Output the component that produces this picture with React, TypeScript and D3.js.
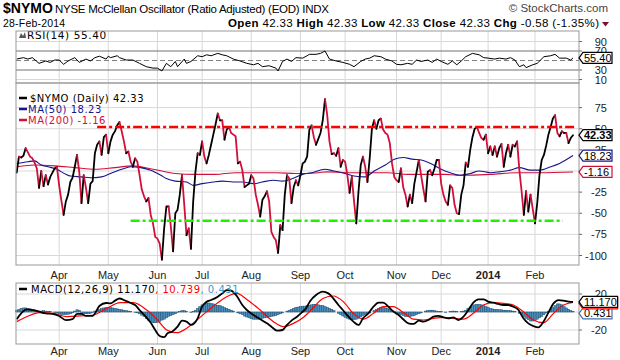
import React from 'react';
import * as d3 from 'd3';

// ---------- data ----------
const monthLabels = ['Apr', 'May', 'Jun', 'Jul', 'Aug', 'Sep', 'Oct', 'Nov', 'Dec', '2014', 'Feb'];
const monthIdx = [19, 41, 63, 83, 105, 127, 147, 170, 190, 211, 232];

// $NYMO daily close, trading day index 0 = 4-Mar-2013
const nymo = [
  -2, 17, 16, 18, 27, 22, 17, 15, 10, 3,
  -20, 0, -18, -5, -16, -7, -2, 3, 5, -17,
  -35, -52, -36, -28, -13, -8, 5, 19, -1, -38,
  -5, -20, -38, -15, -12, 21, 31, 35, 19, 40,
  43, 21, 35, 43, 47, 54, 58, 47, 35, 21,
  23, 11, 5, 15, 11, -5, -22, -30, -36, -32,
  -52, -62, -78, -80, -86, -105, -68, -42, -42, -66,
  -95, -50, -46, -28, -5, -40, -76, -68, -92, -36,
  -1, 21, 19, 35, 17, 9, 19, 31, 43, 55,
  68, 60, 60, 37, 49, 52, 45, 43, 41, 9,
  11, 1, -19, -17, -15, -5, -9, -28, -40, -54,
  -34, -30, -24, -36, -72, -78, -82, -97, -64, -70,
  -28, -5, -9, -38, -19, -11, -17, -5, 9, 11,
  17, 49, 54, 40, 31, 38, 45, 60, 85, 66,
  35, 20, 21, 18, 27, 5, 13, 11, -5, -26,
  -7, -36, -62, -24, 7, 17, 5, -13, 15, 50,
  60, 50, 60, 62, 49, 45, 43, 33, 9, -7,
  -11, -13, 3, -19, -28, -42, -28, -38, -15, -1,
  13, -5, -21, -36, -1, 1, -5, 3, 13, 13,
  -15, -28, -36, -40, -17, -20, -40, -50, -51, -28,
  -17, 10, 5, 25, 40, 50, 52, 45, 39, 37,
  43, 21, 29, 19, 29, 17, 27, 32, 5, 21,
  31, 17, 31, 29, 35, 1, -24, -52, -24, -48,
  -28, -45, -62, -38, -5, 13, 19, 30, 43, 52,
  62, 66, 45, 41, 47, 45, 45, 33, 39, 42.33,
];

const ma50Idx = [0, 5, 8, 11, 14, 18, 22, 24, 29, 33, 38, 42, 47, 51, 55.5, 60, 64.5, 67, 71, 76, 79, 83, 88, 92, 97, 101, 106, 110, 115, 119, 123.5, 128, 132, 138, 142, 147, 151, 156, 160, 165, 169, 173, 177, 181, 186, 190, 194, 198.5, 203, 207, 212, 216, 221, 225, 230, 234, 239, 243, 249];
const ma50Val = [9, 11, 12, 7, 5, 2, -4, -6, -7, -8, -7, -3, 2, 5, 4, 1, -5, -9, -12, -13, -17, -15, -13, -12, -13, -13, -15, -13, -11, -12, -9, -4, -2, 2, 0, -3, -6, -7, 0, 7, 14, 16, 14, 13, 8, 2, -2, -5, -3, 0, -2, -1, 1, 4, 1, 1, 5, 9, 18.23];

const ma200Idx = [0, 8, 17, 26, 35, 44, 52, 61, 65, 71, 80, 89, 98, 107, 116, 125, 135, 139, 148, 157, 166, 175, 184, 192, 197, 212, 224, 234, 249];
const ma200Val = [5, 7, 6, 4, 2, 4, 6, 2, 0, -3, -4, -4, -2, -2, -2, -3, -2, -1, -2, -2, -2, -4, -4, -4, -5, -4, -2, -2, -1.16];

const levelValues = [52, -59];
const levelStart = [36, 51];
const levelEnd = [249.5, 244.5];

const rsiIdx = [0, 3, 5, 7, 9, 10, 13, 15, 17, 19, 21, 23, 26, 28, 31, 33, 35, 37, 40, 41, 42, 45, 46, 49, 52, 55, 58, 61, 63, 65, 67, 69, 71, 72, 75, 76, 78, 81, 83, 85, 87, 90, 92, 94, 97, 100, 103, 106, 108, 110, 113, 116, 117, 119, 121, 123, 125, 128, 130, 131, 134, 136, 138, 140, 143, 146, 149, 151, 154, 156, 158, 160, 163, 165, 168, 170, 172, 175, 177, 179, 181, 184, 186, 188, 190, 193, 195, 197, 199, 201, 204, 207, 209, 211, 214, 216, 219, 221, 223, 225, 227, 228, 231, 233, 236, 239, 241, 243, 246, 248, 249];
const rsiVal = [53, 56, 53, 56, 48, 44, 49, 46, 51, 51, 42, 49, 56, 46, 53, 49, 56, 59, 53, 59, 56, 60, 56, 51, 51, 44, 37, 34, 34, 28, 44, 37, 48, 37, 53, 44, 48, 60, 58, 62, 60, 65, 62, 60, 53, 49, 44, 41, 44, 37, 39, 34, 28, 48, 53, 48, 56, 55, 60, 63, 63, 65, 70, 53, 49, 46, 42, 37, 48, 53, 55, 60, 58, 53, 49, 42, 41, 44, 42, 51, 48, 51, 46, 53, 48, 42, 49, 41, 49, 58, 65, 62, 56, 55, 53, 55, 53, 56, 51, 37, 41, 35, 41, 44, 58, 60, 63, 55, 55, 51, 55.4];

const macdIdx = [0, 2, 4.5, 7.5, 10, 13, 16, 19, 22, 25, 27, 29, 31, 34, 35.5, 37, 40, 42, 44, 46, 48.5, 51, 53, 55, 57.5, 60, 62, 64, 66, 67.5, 69.5, 72, 74, 76, 78, 81, 83, 85, 87, 90, 92, 94, 96, 98.5, 101, 103, 106, 109, 112, 114, 116.5, 119, 121, 123, 125.5, 127.5, 129.5, 131.3, 134, 137, 139.5, 141.7, 144, 146, 148.5, 150.7, 153, 155, 157.4, 159.7, 162, 164, 166.4, 168.6, 171, 173, 175.3, 177.6, 180, 182, 184.3, 186.5, 188.8, 191, 193.2, 195.5, 197.7, 200, 202.2, 204.4, 206.7, 209, 211, 213.4, 215.6, 218, 220, 222.3, 224.6, 226.8, 229, 231.3, 233.5, 235.8, 238, 240.3, 242.5, 244.8, 247, 249];
const macdVal = [-8, -1.5, 3, 2, 0.4, -1.5, -2, -4.4, -9, -8, -2, -2, -4.4, -4.4, 0.4, 6.7, 10, 9.6, 12.6, 15, 12.6, 10, 7.8, 2.2, -4.4, -12, -20, -26.7, -28, -23.7, -21.9, -16.3, -9.6, -10.7, -14.4, -7, 6, 11.5, 13.3, 17, 20.7, 24.4, 23.7, 17.8, 7.8, 2.2, -3.3, -8, -12.6, -16.3, -20.7, -20, -14.4, -9.6, -5.2, -0.7, 4, 12, 18.9, 22.6, 20.7, 15.2, 7.8, 2.2, -5.2, -10.7, -14.4, -7, -1.5, 6, 10.4, 10.4, 6, 0.4, -3.3, -8, -12.6, -13.3, -9.6, -10.7, -8.9, -5.2, -4.4, -5.9, -7, -5.9, -8.9, -5.2, 2.2, 10.4, 14, 14, 11.5, 10.4, 8.9, 7.8, 7.8, 6, 2.2, -7, -12.6, -15.6, -17, -10.7, -0.7, 9.6, 13.3, 12.6, 11.5, 11.17];

const sigIdx = [0, 4.5, 10.4, 16.4, 22.4, 28.4, 34.3, 40.3, 46.3, 52.2, 58.2, 62.7, 67.2, 71.6, 76.1, 80.6, 85.1, 89.6, 94, 98.5, 103, 109, 114.9, 119.4, 123.9, 128.4, 131.3, 137.3, 141.7, 146.2, 150.7, 155.2, 159.7, 164.1, 168.6, 173.1, 177.6, 182, 186.5, 191, 195.5, 200, 204.4, 208.9, 213.4, 217.9, 222.3, 226.8, 231.3, 235.8, 240.3, 244.8, 249];
const sigVal = [-10.7, -5.2, -0.7, -1.5, -5.2, -4.4, -3.3, 4, 10.4, 10.4, 2.2, -8, -20, -23, -18, -9, 0.4, 9.6, 17, 20.7, 14, 2.2, -10.7, -16.3, -12.6, -5.9, 1, 15.2, 17.8, 11.5, -1.5, -8, -1.5, 6, 6, -0.7, -8, -8.9, -7, -5.9, -7, -8, -1.5, 7.8, 10.4, 9.6, 7.8, 0.4, -8.9, -11.9, -1.5, 7.8, 10.739];

const hist = [
  2, 3, 4, 4.5, 4.5, 4, 3.5, 3, 2, 1.5,
  1, 1, 1.5, 1, 0.5, 0.5, 0, -0.5,
  -1, -2, -3, -3, -3, -2.5, -2, -1,
  1, 2.5, 2,
  -0.5, -1.5, -2, -2, -1.5, -0.5,
  1, 2, 3, 4, 4.5, 5, 5, 5, 4.5, 4, 3.5,
  3, 2.5, 2, 1.5, 1, 0.5, 0, -0.5, -1,
  -2, -3.5, -5, -7, -9, -10.5, -12, -12, -11.5, -10.5,
  -9, -8, -6.5, -5, -4, -3, -2,
  -0.5, 0.5, 1.5, 1.5,
  0.5, 0, -0.5, 0.5,
  2, 4, 6, 8, 9, 10, 10, 9.5, 9, 8, 7.5, 7, 6, 5, 4, 3,
  2, 1, 0, -1,
  -2, -3, -4.5, -5.5, -6.5, -7.5, -8, -8, -8, -7.5, -7, -6.5, -6, -5.5, -5, -4.5, -4, -3,
  -2, -1, 0, 1, 2, 3, 4, 5, 5.5, 6, 6.5, 6.5, 7,
  7.5, 8, 8.5, 8.5, 8, 7.5, 7, 6, 5, 4, 3,
  1.5, 0, -1.5, -3, -4.5, -6, -7, -8, -8.5, -8.5, -8, -7, -5.5, -4, -3, -2, -1,
  0, 1.5, 3, 4, 5, 5, 4.5, 4, 3, 2, 1,
  -0.5, -2, -3, -4, -5, -5, -5, -4.5, -4, -3, -2,
  -1, 0, 1, 1.5, 2, 2, 1.5, 1, 0.5, 0.5, 0, -0.5, 0, 0.5, 1, 1, 0.5, 0, 0.5, 1,
  2, 4, 5.5, 7, 8, 8.5, 8.5, 8, 7, 6, 5, 4, 3.5,
  3, 3, 2.5, 2.5, 2, 2, 1.5, 1.5, 1, 0.5, 0,
  -1.5, -3, -5, -7, -8.5, -10, -10, -9.5, -8, -6.5, -5, -3,
  -1, 1, 3, 5, 7, 9, 9, 8, 6, 4.5, 3, 1.5, 0.431,
];

const mainTicks = [75, 50, 25, 0, -25, -50, -75, -100];
const rsiTicks = [90, 70, 30, 10];
const macdTicks = [20, -20];

// ---------- styling ----------
const FONT = 'Liberation Sans, Arial, sans-serif';
const LFONT = 'DejaVu Sans, Verdana, sans-serif';
const UP = '#000000';
const DOWN = '#d0103a';
const NAVY = '#16168a';
const CRIMSON = '#d0103a';
const LABEL_END = 607;

type Pt = [number, number];

function Tag({ x, y, text, stroke, bold, color }: { x: number; y: number; text: string; stroke: string; bold?: boolean; color?: string }) {
  const w = text.length * 5.6 + 1;
  const h = 5.5;
  const pts = `${x},${y} ${x + 4},${y - h} ${x + 4 + w},${y - h} ${x + 4 + w},${y + h} ${x + 4},${y + h}`;
  return (
    <g>
      <polygon points={pts} fill="#fff" stroke={stroke} strokeWidth={1.2} />
      <text x={x + 5} y={y + 4} fontFamily={FONT} fontSize={11} fontWeight={bold ? 'bold' : 'normal'} fill={color || '#000'}>{text}</text>
    </g>
  );
}

export default function App() {
  const L = 16, R = 579;
  const rsiTop = 31, rsiBot = 83, mainTop = 83, mainBot = 265, macdTop = 283, macdBot = 344;
  const x = d3.scaleLinear().domain([0, 232]).range([16.7, 535]);
  const yR = d3.scaleLinear().domain([10, 90]).range([79.5, 41.5]);
  const yM = d3.scaleLinear().domain([-100, 75]).range([255.5, 107.6]);
  const yC = d3.scaleLinear().domain([-20, 20]).range([330, 294]);

  // NYMO colored runs (black rising, red falling)
  const runs: { color: string; pts: Pt[] }[] = [];
  for (let i = 1; i < nymo.length; i++) {
    const c = nymo[i] >= nymo[i - 1] ? UP : DOWN;
    const last = runs[runs.length - 1];
    if (last && last.color === c) last.pts.push([i, nymo[i]]);
    else runs.push({ color: c, pts: [[i - 1, nymo[i - 1]], [i, nymo[i]]] });
  }
  const lineM = d3.line<Pt>().x(d => x(d[0])).y(d => yM(d[1]));
  const lineMs = d3.line<Pt>().x(d => x(d[0])).y(d => yM(d[1])).curve(d3.curveMonotoneX);
  const lineR = d3.line<Pt>().x(d => x(d[0])).y(d => yR(d[1]));
  const lineC = d3.line<Pt>().x(d => x(d[0])).y(d => yC(d[1])).curve(d3.curveMonotoneX);
  const zip = (a: number[], b: number[]) => a.map((v, i) => [v, b[i]] as Pt);

  const lastN = nymo[nymo.length - 1];
  const lastMa50 = ma50Val[ma50Val.length - 1];
  const lastMa200 = ma200Val[ma200Val.length - 1];
  const lastRsi = rsiVal[rsiVal.length - 1];
  const lastMacd = macdVal[macdVal.length - 1];
  const lastSig = sigVal[sigVal.length - 1];
  const lastHist = hist[hist.length - 1];

  const step = x(1) - x(0);
  const monthLines = (top: number, bot: number) =>
    monthIdx.map((m, i) => <line key={i} x1={x(m)} x2={x(m)} y1={top} y2={bot} stroke="#d8d8d8" />);

  const yMacdTag = yC(lastMacd);
  const ySigTag = Math.max(yC(lastSig), yMacdTag + 1.5);
  const yHistTag = Math.max(yC(lastHist), ySigTag + 10);

  const axisLabel = (v: number, y: number) => (
    <g key={v}>
      <line x1={R} x2={R + 3} y1={y} y2={y} stroke="#666" />
      <text x={LABEL_END} y={y + 4} textAnchor="end" fontFamily={FONT} fontSize={11} fill="#222">{v}</text>
    </g>
  );

  return (
    <svg width={620} height={360} style={{ position: 'absolute', left: 0, top: 0, background: '#fff' }}>
      <rect width={620} height={360} fill="#fff" />
      {/* header */}
      <text x={3} y={13} fontFamily={FONT} fontSize={14} fontWeight="bold" fill="#000">$NYMO</text>
      <text x={55} y={13} fontFamily={FONT} fontSize={11.5} textLength={274} lengthAdjust="spacing" fill="#000">NYSE McClellan Oscillator (Ratio Adjusted) (EOD) INDX</text>
      <text x={608} y={12} textAnchor="end" fontFamily={FONT} fontSize={11.5} fill="#444">© StockCharts.com</text>
      <text x={3} y={26.5} fontFamily={FONT} fontSize={10.5} letterSpacing={0.2} fill="#000">28-Feb-2014</text>
      <text x={228} y={26.5} fontFamily={FONT} fontSize={11.5} textLength={371} lengthAdjust="spacing" fill="#000">
        <tspan fontWeight="bold">Open</tspan> 42.33 <tspan fontWeight="bold">High</tspan> 42.33 <tspan fontWeight="bold">Low</tspan> 42.33 <tspan fontWeight="bold">Close</tspan> 42.33 <tspan fontWeight="bold">Chg</tspan> -0.58 (-1.35%)
      </text>
      <path d="M602,22 L609,22 L605.5,26.5 Z" fill="#7a1030" />

      {/* RSI panel */}
      {monthLines(rsiTop, rsiBot)}
      {[90, 10].map(v => <line key={v} x1={L} x2={R} y1={yR(v)} y2={yR(v)} stroke="#d8d8d8" />)}
      {[70, 30].map(v => <line key={v} x1={L} x2={R} y1={yR(v)} y2={yR(v)} stroke="#707070" />)}
      <line x1={L} x2={R} y1={yR(50)} y2={yR(50)} stroke="#808080" strokeDasharray="5,3" />
      <path d={lineR(zip(rsiIdx, rsiVal)) || ''} fill="none" stroke="#000" strokeWidth={1} />
      <path d="M19,38 L21,33 L23,36 L25,32 L26,38 Z" fill="#555" />
      <text x={27} y={38.5} fontFamily={LFONT} fontSize={10.5} letterSpacing={0.6} fill="#000">RSI(14) 55.40</text>
      {rsiTicks.map(v => axisLabel(v, yR(v)))}
      <rect x={L} y={rsiTop} width={R - L} height={rsiBot - rsiTop} fill="none" stroke="#999" />
      <Tag x={R} y={yR(lastRsi)} text={lastRsi.toFixed(2)} stroke="#000" />

      {/* main panel */}
      {monthLines(mainTop, mainBot)}
      {mainTicks.map(v => <line key={v} x1={L} x2={R} y1={yM(v)} y2={yM(v)} stroke="#d8d8d8" />)}
      <path d={lineMs(zip(ma200Idx, ma200Val)) || ''} fill="none" stroke={CRIMSON} strokeWidth={1.1} />
      <path d={lineMs(zip(ma50Idx, ma50Val)) || ''} fill="none" stroke={NAVY} strokeWidth={1.1} />
      {runs.map((r, i) => (
        <path key={i} d={lineM(r.pts) || ''} fill="none" stroke={r.color} strokeWidth={1.8} strokeLinejoin="round" strokeLinecap="round" />
      ))}
      {levelValues.map((v, i) => (
        <line key={i} x1={x(levelStart[i])} x2={x(levelEnd[i])} y1={yM(v)} y2={yM(v)}
          stroke={i === 0 ? '#ff0000' : '#22ee00'} strokeWidth={2.5} strokeDasharray="9,3,3,3" />
      ))}
      <line x1={19} x2={27} y1={98} y2={98} stroke="#000" strokeWidth={2.5} />
      <text x={30} y={101.5} fontFamily={LFONT} fontSize={10} letterSpacing={0.5} fill="#000">$NYMO (Daily) 42.33</text>
      <line x1={19} x2={27} y1={109} y2={109} stroke={NAVY} strokeWidth={2.5} />
      <text x={28} y={112.5} fontFamily={LFONT} fontSize={10} letterSpacing={0.5} fill={NAVY}>MA(50) 18.23</text>
      <line x1={19} x2={27} y1={120} y2={120} stroke={CRIMSON} strokeWidth={2.5} />
      <text x={28} y={123.5} fontFamily={LFONT} fontSize={10} letterSpacing={0.5} fill={CRIMSON}>MA(200) -1.16</text>
      {mainTicks.map(v => axisLabel(v, yM(v)))}
      <rect x={L} y={mainTop} width={R - L} height={mainBot - mainTop} fill="none" stroke="#999" />
      <Tag x={R} y={yM(lastMa200)} text={lastMa200.toFixed(2)} stroke={CRIMSON} />
      <Tag x={R} y={yM(lastMa50)} text={lastMa50.toFixed(2)} stroke={NAVY} />
      <Tag x={R} y={yM(lastN)} text={lastN.toFixed(2)} stroke="#000" bold />

      {/* month labels */}
      {monthIdx.map((m, i) => (
        <g key={i}>
          <text x={x(m)} y={279} textAnchor="middle" fontFamily={FONT} fontSize={11} fontWeight={monthLabels[i] === '2014' ? 'bold' : 'normal'} fill="#222">{monthLabels[i]}</text>
          <text x={x(m)} y={355} textAnchor="middle" fontFamily={FONT} fontSize={11} fontWeight={monthLabels[i] === '2014' ? 'bold' : 'normal'} fill="#222">{monthLabels[i]}</text>
        </g>
      ))}

      {/* MACD panel */}
      {monthLines(macdTop, macdBot)}
      {[20, 0, -20].map(v => <line key={v} x1={L} x2={R} y1={yC(v)} y2={yC(v)} stroke="#d8d8d8" />)}
      {hist.map((h, i) => (
        <rect key={i} x={x(i) - step / 2} width={step} y={Math.min(yC(h), yC(0))} height={Math.abs(yC(h) - yC(0))}
          fill="#4b8fbd" stroke="#1f4f70" strokeWidth={0.5} />
      ))}
      <path d={lineC(zip(sigIdx, sigVal)) || ''} fill="none" stroke="#ff0000" strokeWidth={1.2} />
      <path d={lineC(zip(macdIdx, macdVal)) || ''} fill="none" stroke="#000" strokeWidth={1.8} />
      <line x1={19} x2={27} y1={289} y2={289} stroke="#000" strokeWidth={2.5} />
      <text x={31} y={292.5} fontFamily={LFONT} fontSize={10} letterSpacing={0.5} fill="#000">
        MACD(12,26,9) {lastMacd.toFixed(3)}<tspan fill="#ff0000">, {lastSig.toFixed(3)}</tspan><tspan fill="#3a9ad0">, {lastHist.toFixed(3)}</tspan>
      </text>
      {macdTicks.map(v => axisLabel(v, yC(v)))}
      <rect x={L} y={macdTop} width={R - L} height={macdBot - macdTop} fill="none" stroke="#999" />
      <Tag x={R} y={yHistTag} text={lastHist.toFixed(3)} stroke="#4a6fb0" />
      <Tag x={R} y={ySigTag} text={lastSig.toFixed(3)} stroke="#ff0000" />
      <Tag x={R} y={yMacdTag} text={lastMacd.toFixed(3)} stroke="#000" />
    </svg>
  );
}
